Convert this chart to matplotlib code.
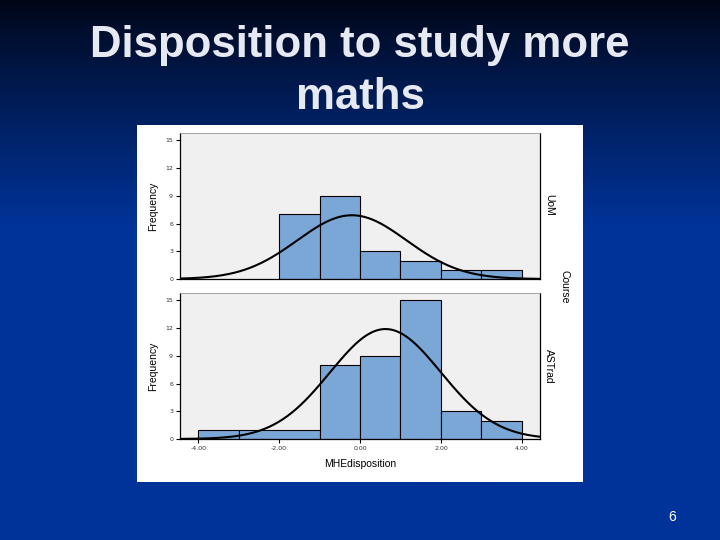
import numpy as np
import matplotlib
matplotlib.use("Agg")
import matplotlib.pyplot as plt
from matplotlib.patches import Rectangle

# ---- data ----
title_lines = ["Disposition to study more", "maths"]
x_label = "MHEdisposition"
y_label = "Frequency"
panel_labels = ["UoM", "ASTrad"]
facet_label = "Course"
page_number = "6"

# bin edges and counts per panel
uom_edges = [-2, -1, 0, 1, 2, 3, 4]
uom_counts = [7, 9, 3, 2, 1, 1]
astrad_edges = [-4, -3, -1, 0, 1, 2, 3, 4]
astrad_counts = [1, 1, 8, 9, 15, 3, 2]

# fitted normal curves: mean, sd, peak height
uom_fit = (-0.2, 1.35, 6.9)
astrad_fit = (0.63, 1.37, 11.9)

y_ticks = [0, 3, 6, 9, 12, 15]
x_ticks = [-4, -2, 0, 2, 4]
x_tick_labels = ["-4.00", "-2.00", "0.00", "2.00", "4.00"]

# ---- figure ----
W, H = 720, 540
fig = plt.figure(figsize=(W / 100, H / 100), dpi=100)

# background gradient
bg = fig.add_axes([0, 0, 1, 1], zorder=-10)
grad = np.linspace(0, 1, 256)
top = np.array([0.0, 0.02, 0.08])
bot = np.array([0.0, 0.2, 0.6])
t = np.clip(grad / 0.42, 0, 1) ** 0.85
cols = top[None, :] * (1 - t[:, None]) + bot[None, :] * t[:, None]
bg.imshow(cols[:, None, :], aspect="auto", extent=[0, 1, 0, 1], origin="upper")
bg.add_patch(Rectangle((137 / W, 1 - 482 / H), 446 / W, 357 / H,
                       facecolor="white", edgecolor="none", zorder=5))
bg.set_xlim(0, 1)
bg.set_ylim(0, 1)
bg.set_axis_off()

fig.text(0.5, 1 - 57 / H, title_lines[0], ha="center", va="baseline",
         fontsize=31.5, fontweight="bold", color="#e6e8f2", family="Liberation Sans")
fig.text(0.5, 1 - 109 / H, title_lines[1], ha="center", va="baseline",
         fontsize=31.5, fontweight="bold", color="#e6e8f2", family="Liberation Sans")
fig.text(672 / W, 1 - 517 / H, page_number, ha="center", va="center",
         fontsize=10, color="white", family="Liberation Sans")

bar_color = "#7ba7d7"
xlim = (-4.45, 4.45)
ylim = (0, 15.8)


def panel(rect, edges, counts, fit, show_x):
    ax = fig.add_axes(rect)
    ax.set_facecolor("#f0f0f0")
    edges = np.array(edges, dtype=float)
    ax.bar(edges[:-1], counts, width=np.diff(edges), align="edge",
           color=bar_color, edgecolor="black", linewidth=0.8, zorder=2)
    xs = np.linspace(xlim[0], xlim[1], 400)
    m, s, pk = fit
    ax.plot(xs, pk * np.exp(-0.5 * ((xs - m) / s) ** 2), color="black",
            linewidth=1.5, zorder=3)
    ax.set_xlim(*xlim)
    ax.set_ylim(*ylim)
    ax.set_yticks(y_ticks)
    ax.set_yticklabels([str(v) for v in y_ticks], fontsize=4.5, color="#333333")
    ax.tick_params(axis="y", length=3, width=0.8, pad=2)
    if show_x:
        ax.set_xticks(x_ticks)
        ax.set_xticklabels(x_tick_labels, fontsize=4.5, color="#333333")
        ax.tick_params(axis="x", length=3, width=0.8, pad=2)
        ax.set_xlabel(x_label, fontsize=7.5, labelpad=6, family="Liberation Sans")
    else:
        ax.set_xticks([])
    ax.set_ylabel(y_label, fontsize=7.5, labelpad=5, family="Liberation Sans")
    for sp in ["left", "bottom", "right"]:
        ax.spines[sp].set_color("black")
        ax.spines[sp].set_linewidth(0.9)
    ax.spines["top"].set_color("#999999")
    ax.spines["top"].set_linewidth(0.6)
    return ax


panel([180 / W, 1 - 279 / H, 360 / W, 146 / H], uom_edges, uom_counts, uom_fit, False)
panel([180 / W, 1 - 439 / H, 360 / W, 146 / H], astrad_edges, astrad_counts, astrad_fit, True)

fig.text(549 / W, 1 - 205 / H, panel_labels[0], rotation=270, ha="center",
         va="center", fontsize=7.5, family="Liberation Sans")
fig.text(549 / W, 1 - 366 / H, panel_labels[1], rotation=270, ha="center",
         va="center", fontsize=7.5, family="Liberation Sans")
fig.text(565 / W, 1 - 287 / H, facet_label, rotation=270, ha="center",
         va="center", fontsize=7.5, family="Liberation Sans")

fig.savefig("out.png", dpi=100)
